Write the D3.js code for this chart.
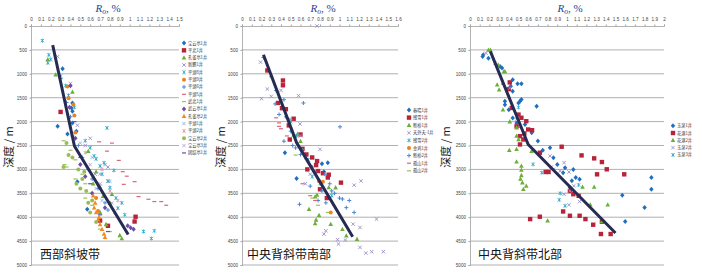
<!DOCTYPE html>
<html>
<head>
<meta charset="utf-8">
<script src="https://cdn.jsdelivr.net/npm/d3@7"></script>
<style>
  body { margin: 0; background: #fff; }
  svg { display: block; }
</style>
</head>
<body>
<div id="chart"></div>
<script>
// Ro (%) against depth (m), one array of [Ro, depth] per well

// ---- 西部斜坡带 ----
const westNames = ["宝云亭1井", "平北1井", "孔雀亭1井", "新鹏1井", "平湖8井", "平湖9井", "平湖6井", "平湖5井",
  "武北1井", "武云亭1井", "孔雀亭2井", "平湖1井", "平湖2井", "宝云亭2井", "宝云亭3井", "团结亭1井"]
const w01 = [[0.32, 896], [0.42, 1611], [0.42, 1784], [0.42, 2028], [0.27, 2097], [0.46, 2202], [0.37, 2257],
  [0.41, 1715], [0.47, 3257], [0.57, 3834]]
const w02 = [[0.30, 1798], [0.70, 4070], [0.78, 4180], [1.05, 4090], [1.06, 3990]]
const w03 = [[0.17, 700], [0.25, 1021], [0.42, 1382], [0.58, 2620], [0.66, 3050], [0.63, 3300], [0.82, 3520],
  [0.73, 3560], [0.80, 3700], [0.70, 3900], [0.76, 4150], [0.90, 4380], [0.92, 4445]]
const w04 = [[0.27, 640], [0.40, 1200], [0.47, 2076], [0.60, 2350], [0.55, 2500], [0.75, 2900], [0.78, 2951],
  [0.65, 3100], [0.78, 3250], [0.70, 3350]]
const w05 = [[0.115, 306], [0.18, 604], [0.17, 771], [0.20, 700], [0.30, 1050], [0.35, 1250], [0.38, 1450],
  [0.44, 1700], [0.77, 2132], [0.55, 2400], [0.60, 2549], [0.64, 2720], [0.66, 2780], [0.74, 2860], [0.70, 2930],
  [0.84, 3021], [0.72, 3100], [0.78, 3243], [0.80, 3380], [0.86, 3600], [0.92, 3700], [0.88, 3811], [0.95, 3950],
  [1.14, 4298], [1.25, 4285], [1.22, 4445]]
const w06 = [[0.37, 1264], [0.38, 1514], [0.43, 1640], [0.44, 1870], [0.45, 2230], [0.66, 3600], [0.68, 3870]]
const w07 = [[0.30, 1100], [0.36, 1600], [0.40, 1900], [0.42, 2300], [0.48, 2500], [0.52, 2750], [0.58, 3000],
  [0.62, 3200], [0.68, 3400], [0.75, 3700], [0.78, 3850]]
const w08 = [[0.69, 2423], [0.82, 2450], [0.77, 2618], [0.89, 2812], [0.93, 3048], [0.97, 3142], [1.05, 3257],
  [0.94, 3313], [1.09, 3569], [1.19, 3625], [1.25, 3673], [1.32, 3673], [1.37, 3750]]
const w09 = [[0.33, 2400], [0.35, 2500], [0.40, 2600], [0.45, 2800], [0.34, 2900], [0.36, 2950], [0.48, 3000],
  [0.52, 3100], [0.45, 3200], [0.55, 3300], [0.60, 3500], [0.55, 3600], [0.62, 3750], [0.70, 4250], [0.80, 4300]]
const w10 = [[0.40, 1250], [0.39, 1701], [0.45, 2350], [0.50, 2900], [0.55, 3150], [0.62, 3500], [0.75, 3800],
  [0.98, 4180], [1.01, 4220], [1.04, 4250]]
const w11 = [[0.63, 3550], [0.65, 3700], [0.64, 3800], [0.66, 3900], [0.69, 4000], [0.68, 4050], [0.70, 4150],
  [0.72, 4250], [0.74, 4350], [0.75, 4420]]
const w12 = [[0.50, 2450], [0.62, 2750], [0.70, 3100], [0.80, 3250], [0.66, 3400], [0.72, 3650], [0.85, 3900]]
const w13 = [[0.55, 2650], [0.72, 3000], [0.80, 3450], [0.88, 3650]]
const w14 = [[0.36, 2450], [0.38, 2700], [0.42, 2750], [0.33, 2950], [0.48, 3000], [0.54, 3050], [0.52, 3200],
  [0.46, 3300], [0.50, 3400], [0.56, 3450], [0.62, 3650], [0.58, 3700], [0.60, 3900], [0.66, 4100]]
const w15 = [[0.40, 2100], [0.60, 2900], [0.70, 3300], [0.82, 3700]]
const w16 = [[0.44, 2000], [0.50, 2750], [0.60, 3300], [0.70, 3950], [0.78, 4300]]
const westTrend = [[0.22, 400], [0.44, 2510], [0.985, 4360]]

// ---- 中央背斜带南部 ----
const southNames = ["春晓1井", "残雪1井", "断桥1井", "天外天-1井", "残雪2井", "金鸡1井", "断桥2井", "孤山1井", "孤山2井"]
const s1 = [[0.44, 2650], [0.56, 3190], [0.82, 2880], [0.88, 2860], [0.84, 3050]]
const s2 = [[0.26, 930], [0.42, 1140], [0.42, 1240], [0.37, 1610], [0.41, 1720], [0.45, 1740], [0.53, 1940],
  [0.48, 2080], [0.60, 2270], [0.49, 2375], [0.62, 2569], [0.66, 2687], [0.72, 2750], [0.77, 2826], [0.76, 2910],
  [0.67, 3000], [0.78, 3035], [0.83, 3080], [0.89, 3111], [0.88, 3170], [1.015, 3277], [0.80, 3416], [0.87, 3600]]
const s3 = [[0.53, 2280], [0.57, 2257], [0.60, 2410], [0.96, 3381], [0.89, 3380], [0.77, 3535], [0.75, 3570],
  [0.687, 3833], [0.79, 3958], [0.76, 4055], [0.75, 4130], [0.91, 4145], [1.03, 4250], [1.07, 4389], [1.18, 4458]]
const s4 = [[0.77, 0], [0.19, 756], [0.26, 1319], [0.40, 1347], [0.58, 1458], [0.30, 1472], [0.20, 1520],
  [0.49, 1944], [0.595, 2050], [0.60, 2300], [0.80, 2580], [0.70, 3100], [1.22, 3240], [0.65, 3300], [1.15, 3330],
  [1.38, 4040], [1.14, 4145], [1.21, 4215], [0.86, 4284], [0.84, 4354], [0.98, 4470], [1.06, 4478], [0.99, 4562],
  [1.21, 4632], [1.45, 4722], [1.33, 4722], [1.27, 4750]]
const s5 = [[0.50, 2000], [0.56, 2300], [0.62, 2600], [0.68, 2800], [0.72, 3150], [0.80, 3300], [0.92, 3550]]
const s6 = [[0.79, 3250], [0.83, 3260], [0.91, 3900]]
const s7 = [[0.22, 660], [0.30, 1060], [0.35, 1350], [0.43, 1541], [0.34, 1630], [0.63, 1611], [0.38, 1850],
  [0.45, 1900], [1.005, 2110], [0.50, 2200], [0.43, 2410], [0.52, 2500], [0.55, 2550], [0.60, 2690], [0.66, 2780],
  [0.72, 2950], [0.75, 3050], [0.85, 3100], [0.90, 3300], [0.70, 3350], [0.82, 3450], [0.92, 3450], [0.95, 3500],
  [1.00, 3600], [1.03, 3620], [1.10, 3650], [0.78, 3650], [0.86, 3700], [0.59, 3730], [1.07, 3800], [1.15, 3900]]
const s8 = [[0.35, 1920], [0.38, 2027], [0.38, 2100], [0.40, 2150], [0.46, 2300], [0.62, 3300], [0.70, 3550],
  [0.75, 3650]]
const s9 = [[0.55, 2700], [0.72, 3600], [0.78, 3750], [0.88, 3900]]
const southTrend = [[0.22, 600], [0.56, 2440], [1.135, 4410]]

// ---- 中央背斜带北部 ----
const northNames = ["玉泉1井", "花港1井", "花港2井", "玉泉2井", "玉泉3井"]
const n1 = [[0.137, 604], [0.13, 640], [0.19, 673], [0.31, 847], [0.33, 880], [0.44, 1125], [0.49, 1208],
  [0.53, 1208], [0.42, 1263], [0.44, 1367], [0.36, 1575], [0.515, 1575], [0.53, 1540], [0.50, 1610], [0.687, 1680],
  [0.36, 1645], [0.40, 1750], [0.44, 1923], [0.48, 2030], [0.567, 2061], [0.636, 2235], [0.70, 2408], [0.825, 2547],
  [0.75, 2600], [0.86, 2755], [0.90, 2900], [0.98, 2963], [1.065, 3000], [0.96, 3068], [1.09, 3172], [1.13, 3207],
  [1.05, 3240], [1.03, 3380], [1.87, 3172], [1.87, 3415], [1.57, 3540], [1.80, 3796], [1.60, 4088]]
const n2 = [[0.41, 1180], [0.40, 1320], [0.43, 1715], [0.50, 1853], [0.53, 1920], [0.58, 1992], [0.48, 2100],
  [0.60, 2165], [0.64, 2180], [0.56, 2250], [0.515, 2304], [0.55, 2374], [0.515, 2478], [0.945, 2526], [0.72, 2651],
  [1.15, 2707], [1.28, 2769], [1.36, 2846], [1.41, 2998], [0.81, 3054], [0.78, 3054], [1.31, 3103], [1.59, 3103],
  [1.03, 3450], [1.065, 3519], [1.12, 3553], [0.96, 3880], [1.03, 3970], [1.13, 3970], [0.72, 3990], [1.19, 4040],
  [0.62, 4040], [1.36, 4095], [1.27, 4157], [1.35, 4352], [1.45, 4352]]
const n3 = [[0.19, 500], [0.21, 500], [0.29, 812], [0.35, 950], [0.36, 952], [0.34, 1194], [0.28, 1229],
  [0.30, 1333], [0.34, 1750], [0.41, 2000], [0.48, 2130], [0.48, 2300], [0.50, 2374], [0.48, 2580], [0.405, 2600],
  [0.635, 2617], [0.48, 2839], [0.53, 2930], [0.53, 3010], [0.53, 3124], [0.52, 3200], [0.54, 3276], [0.58, 3346],
  [0.55, 3415], [1.16, 3366], [1.28, 3366], [1.24, 3741], [1.42, 3741], [0.80, 4074], [1.36, 4088]]
const n4 = [[0.165, 570], [0.26, 778], [0.41, 1298], [0.48, 1950], [0.825, 2720], [0.97, 2860], [0.84, 2950],
  [0.86, 3000], [0.93, 3033], [1.02, 3054], [1.07, 3346], [1.03, 3450], [0.97, 3519], [1.13, 3672], [1.02, 3741]]
const n5 = [[0.50, 1700], [0.52, 2100], [0.65, 2894], [0.74, 3068], [1.12, 3325], [0.93, 3500], [0.92, 3637],
  [0.98, 3762]]
const northTrend = [[0.21, 530], [0.60, 2480], [1.50, 4330]]

const depthTicks = d3.range(0, 5001, 500)

// marker styles, in series order (Excel 2007 look)
const markers = [
  { shape: "diamond", color: "#1F6EBF" },
  { shape: "square", color: "#B8233A" },
  { shape: "triangle", color: "#6DAE3A" },
  { shape: "times", color: "#9A8CC8" },
  { shape: "star", color: "#2FA9C8" },
  { shape: "circle", color: "#F07F1E" },
  { shape: "plus", color: "#4A86D0" },
  { shape: "dash", color: "#D9677A" },
  { shape: "dash", color: "#9BC35A" },
  { shape: "diamond", color: "#6B4EA6" },
  { shape: "triangle", color: "#F08A24" },
  { shape: "times", color: "#8FB4E3" },
  { shape: "star", color: "#E49AA8" },
  { shape: "circle", color: "#9BBB59" },
  { shape: "times", color: "#B3A2D3" },
  { shape: "dash", color: "#4B5DA3" }
]

const panels = [
  { names: westNames, data: [w01, w02, w03, w04, w05, w06, w07, w08, w09, w10, w11, w12, w13, w14, w15, w16],
    trend: westTrend, label: "西部斜坡带", xMax: 1.5, x0: 31, x1: 179, legX: 184, legY: 43, legStep: 7.33, yLabelX: 9, capX: 40 },
  { names: southNames, data: [s1, s2, s3, s4, s5, s6, s7, s8, s9],
    trend: southTrend, label: "中央背斜带南部", xMax: 1.6, x0: 242, x1: 398, legX: 409, legY: 110, legStep: 7.6, yLabelX: 221, capX: 247 },
  { names: northNames, data: [n1, n2, n3, n4, n5],
    trend: northTrend, label: "中央背斜带北部", xMax: 2.0, x0: 470, x1: 664, legX: 673, legY: 125.7, legStep: 7.3, yLabelX: 446, capX: 478 }
]

const width = 702
const height = 274

const svg = d3.select("#chart").append("svg")
  .attr("width", width)
  .attr("height", height)
  .attr("viewBox", `0 0 ${width} ${height}`)

svg.append("rect").attr("width", width).attr("height", height).attr("fill", "#fff")

const y = d3.scaleLinear().domain([0, 5000]).range([26, 265])

function drawMarker(g, shape, color, cx, cy) {
  if (shape === "diamond") {
    g.append("path").attr("d", `M${cx},${cy - 2.5}L${cx + 2.2},${cy}L${cx},${cy + 2.5}L${cx - 2.2},${cy}Z`).attr("fill", color)
  } else if (shape === "square") {
    g.append("rect").attr("x", cx - 2.2).attr("y", cy - 2.2).attr("width", 4.4).attr("height", 4.4).attr("fill", color)
  } else if (shape === "triangle") {
    g.append("path").attr("d", `M${cx},${cy - 2.5}L${cx + 2.3},${cy + 1.8}L${cx - 2.3},${cy + 1.8}Z`).attr("fill", color)
  } else if (shape === "circle") {
    g.append("circle").attr("cx", cx).attr("cy", cy).attr("r", 2).attr("fill", color)
  } else if (shape === "times") {
    g.append("path").attr("d", `M${cx - 1.7},${cy - 1.7}L${cx + 1.7},${cy + 1.7}M${cx + 1.7},${cy - 1.7}L${cx - 1.7},${cy + 1.7}`)
      .attr("stroke", color).attr("stroke-width", 0.9).attr("fill", "none")
  } else if (shape === "star") {
    g.append("path").attr("d", `M${cx - 1.6},${cy - 1.6}L${cx + 1.6},${cy + 1.6}M${cx + 1.6},${cy - 1.6}L${cx - 1.6},${cy + 1.6}M${cx},${cy - 2}L${cx},${cy + 2}`)
      .attr("stroke", color).attr("stroke-width", 0.9).attr("fill", "none")
  } else if (shape === "plus") {
    g.append("path").attr("d", `M${cx - 2},${cy}L${cx + 2},${cy}M${cx},${cy - 2}L${cx},${cy + 2}`)
      .attr("stroke", color).attr("stroke-width", 1).attr("fill", "none")
  } else if (shape === "dash") {
    g.append("rect").attr("x", cx - 2).attr("y", cy - 0.6).attr("width", 4).attr("height", 1.2).attr("fill", color)
  }
}

const tickFmt = v => String(+v.toFixed(1))

panels.forEach(p => {
  const x = d3.scaleLinear().domain([0, p.xMax]).range([p.x0, p.x1])
  const g = svg.append("g")

  // horizontal gridlines
  g.append("g").selectAll("line")
    .data(depthTicks.filter(d => d > 0))
    .join("line")
    .attr("x1", p.x0).attr("x2", p.x1)
    .attr("y1", d => y(d)).attr("y2", d => y(d))
    .attr("stroke", "#b0b0b0").attr("stroke-width", 1)

  // top Ro axis
  const xAxis = g.append("g")
    .attr("transform", `translate(0,${y(0)})`)
    .call(d3.axisTop(x).tickValues(d3.range(0, p.xMax + 0.001, 0.1)).tickFormat(tickFmt).tickSize(1.5).tickPadding(4))
  xAxis.select(".domain").attr("stroke", "#a0a0a0").attr("stroke-width", 0.8)
  xAxis.selectAll(".tick line").attr("stroke", "#a0a0a0")
  xAxis.selectAll("text").attr("font-size", "4.6px").attr("fill", "#444").attr("font-family", "Liberation Sans, Arial")

  // left depth axis
  const yAxis = g.append("g")
    .attr("transform", `translate(${p.x0},0)`)
    .call(d3.axisLeft(y).tickValues(depthTicks).tickFormat(d3.format("d")).tickSize(1.5).tickPadding(2.5))
  yAxis.select(".domain").attr("stroke", "#a0a0a0").attr("stroke-width", 0.8)
  yAxis.selectAll(".tick line").attr("stroke", "#a0a0a0")
  yAxis.selectAll("text").attr("font-size", "4.6px").attr("fill", "#444").attr("font-family", "Liberation Sans, Arial")

  // title Ro, %
  const title = g.append("text")
    .attr("x", (p.x0 + p.x1) / 2 + 3).attr("y", 12)
    .attr("text-anchor", "middle")
    .attr("font-family", "Liberation Serif, Times New Roman, serif")
    .attr("font-size", "11px")
    .attr("fill", "#1D3F8F")
  title.append("tspan").attr("font-style", "italic").text("R")
  title.append("tspan").attr("font-style", "italic").attr("font-size", "7.5px").attr("dy", 2).text("o")
  title.append("tspan").attr("dy", -2).text(", %")

  // depth label
  g.append("text")
    .attr("transform", `translate(${p.yLabelX + 4},147) rotate(-90)`)
    .attr("text-anchor", "middle")
    .attr("font-family", "Noto Sans CJK SC, sans-serif")
    .attr("font-size", "11px")
    .attr("fill", "#222")
    .text("深度 / m")

  // scatter points
  p.data.forEach((series, i) => {
    const m = markers[i]
    const sg = g.append("g")
    series.forEach(d => drawMarker(sg, m.shape, m.color, x(d[0]), y(d[1])))
  })

  // trend line
  g.append("path")
    .datum(p.trend)
    .attr("d", d3.line().x(d => x(d[0])).y(d => y(d[1])))
    .attr("fill", "none")
    .attr("stroke", "#262b52")
    .attr("stroke-width", 3)
    .attr("stroke-linejoin", "round")

  // legend
  const leg = g.append("g")
  p.names.forEach((name, i) => {
    const ly = p.legY + i * p.legStep
    drawMarker(leg, markers[i].shape, markers[i].color, p.legX, ly)
    leg.append("text")
      .attr("x", p.legX + 4).attr("y", ly + 1.5)
      .attr("font-size", "4.2px")
      .attr("font-family", "Noto Sans CJK SC, sans-serif")
      .attr("fill", "#333")
      .text(name)
  })

  // panel caption
  g.append("text")
    .attr("x", p.capX).attr("y", 259)
    .attr("font-family", "Noto Sans CJK SC, sans-serif")
    .attr("font-size", "12px")
    .attr("fill", "#111")
    .text(p.label)
})
</script>
</body>
</html>
